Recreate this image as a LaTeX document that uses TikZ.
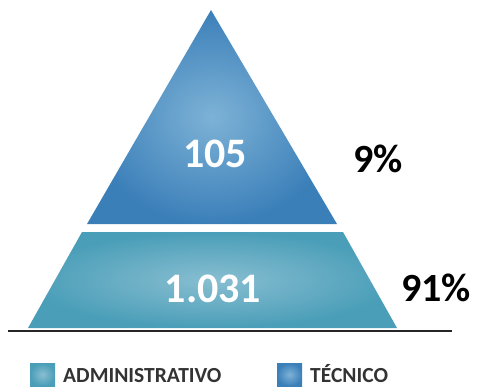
\documentclass[tikz,border=0pt]{standalone}
\usepackage{fontspec}
\setmainfont{Carlito}
\definecolor{tecnico}{HTML}{3B7FB9}
\definecolor{tecnicoclaro}{HTML}{7DB2D6}
\definecolor{admin}{HTML}{4A9EB8}
\definecolor{adminclaro}{HTML}{88BED1}
\definecolor{leyenda}{HTML}{333333}
\tikzset{
  cifra/.style={text=white,font=\fontsize{42}{42}\selectfont\bfseries,inner sep=0pt},
  porcentaje/.style={text=black,font=\fontsize{40}{40}\selectfont\bfseries,inner sep=0pt},
  rotulo/.style={text=leyenda,font=\fontsize{21.5}{21.5}\selectfont\bfseries,anchor=base west,inner sep=0pt}
}
\begin{document}
\begin{tikzpicture}[x=1pt,y=-1pt]
                \useasboundingbox (0,0) rectangle (477,386);
                % piramide
                \shade[inner color=tecnicoclaro,outer color=tecnico] (211,10) -- (337,224) -- (87,224) -- cycle;
                \shade[inner color=adminclaro,outer color=admin] (82,232) -- (343,232) -- (397,328) -- (28,328) -- cycle;
                \coordinate (izq) at (8,331);
                \coordinate (der) at (452,331);
                \draw[line width=2.5pt,black!85] (izq) -- (der);
                % cifras
                \node[cifra] (tec) at (215,154) {105};
                \node[cifra] (adm) at (213,289) {1.031};
                \node[porcentaje] (ptec) at (378,159) {9\%};
                \node[porcentaje] (padm) at (436,288) {91\%};
                % leyenda
                \foreach \x/\c/\t/\n in {30/admin/ADMINISTRATIVO/la,277/tecnico/TÉCNICO/lt}{
                    \shade[inner color=\c claro,outer color=\c] (\x,363) rectangle (\x+25,386);
                    \node[rotulo] (\n) at (\x+33,382) {\t};
                }
            \end{tikzpicture}
\end{document}
